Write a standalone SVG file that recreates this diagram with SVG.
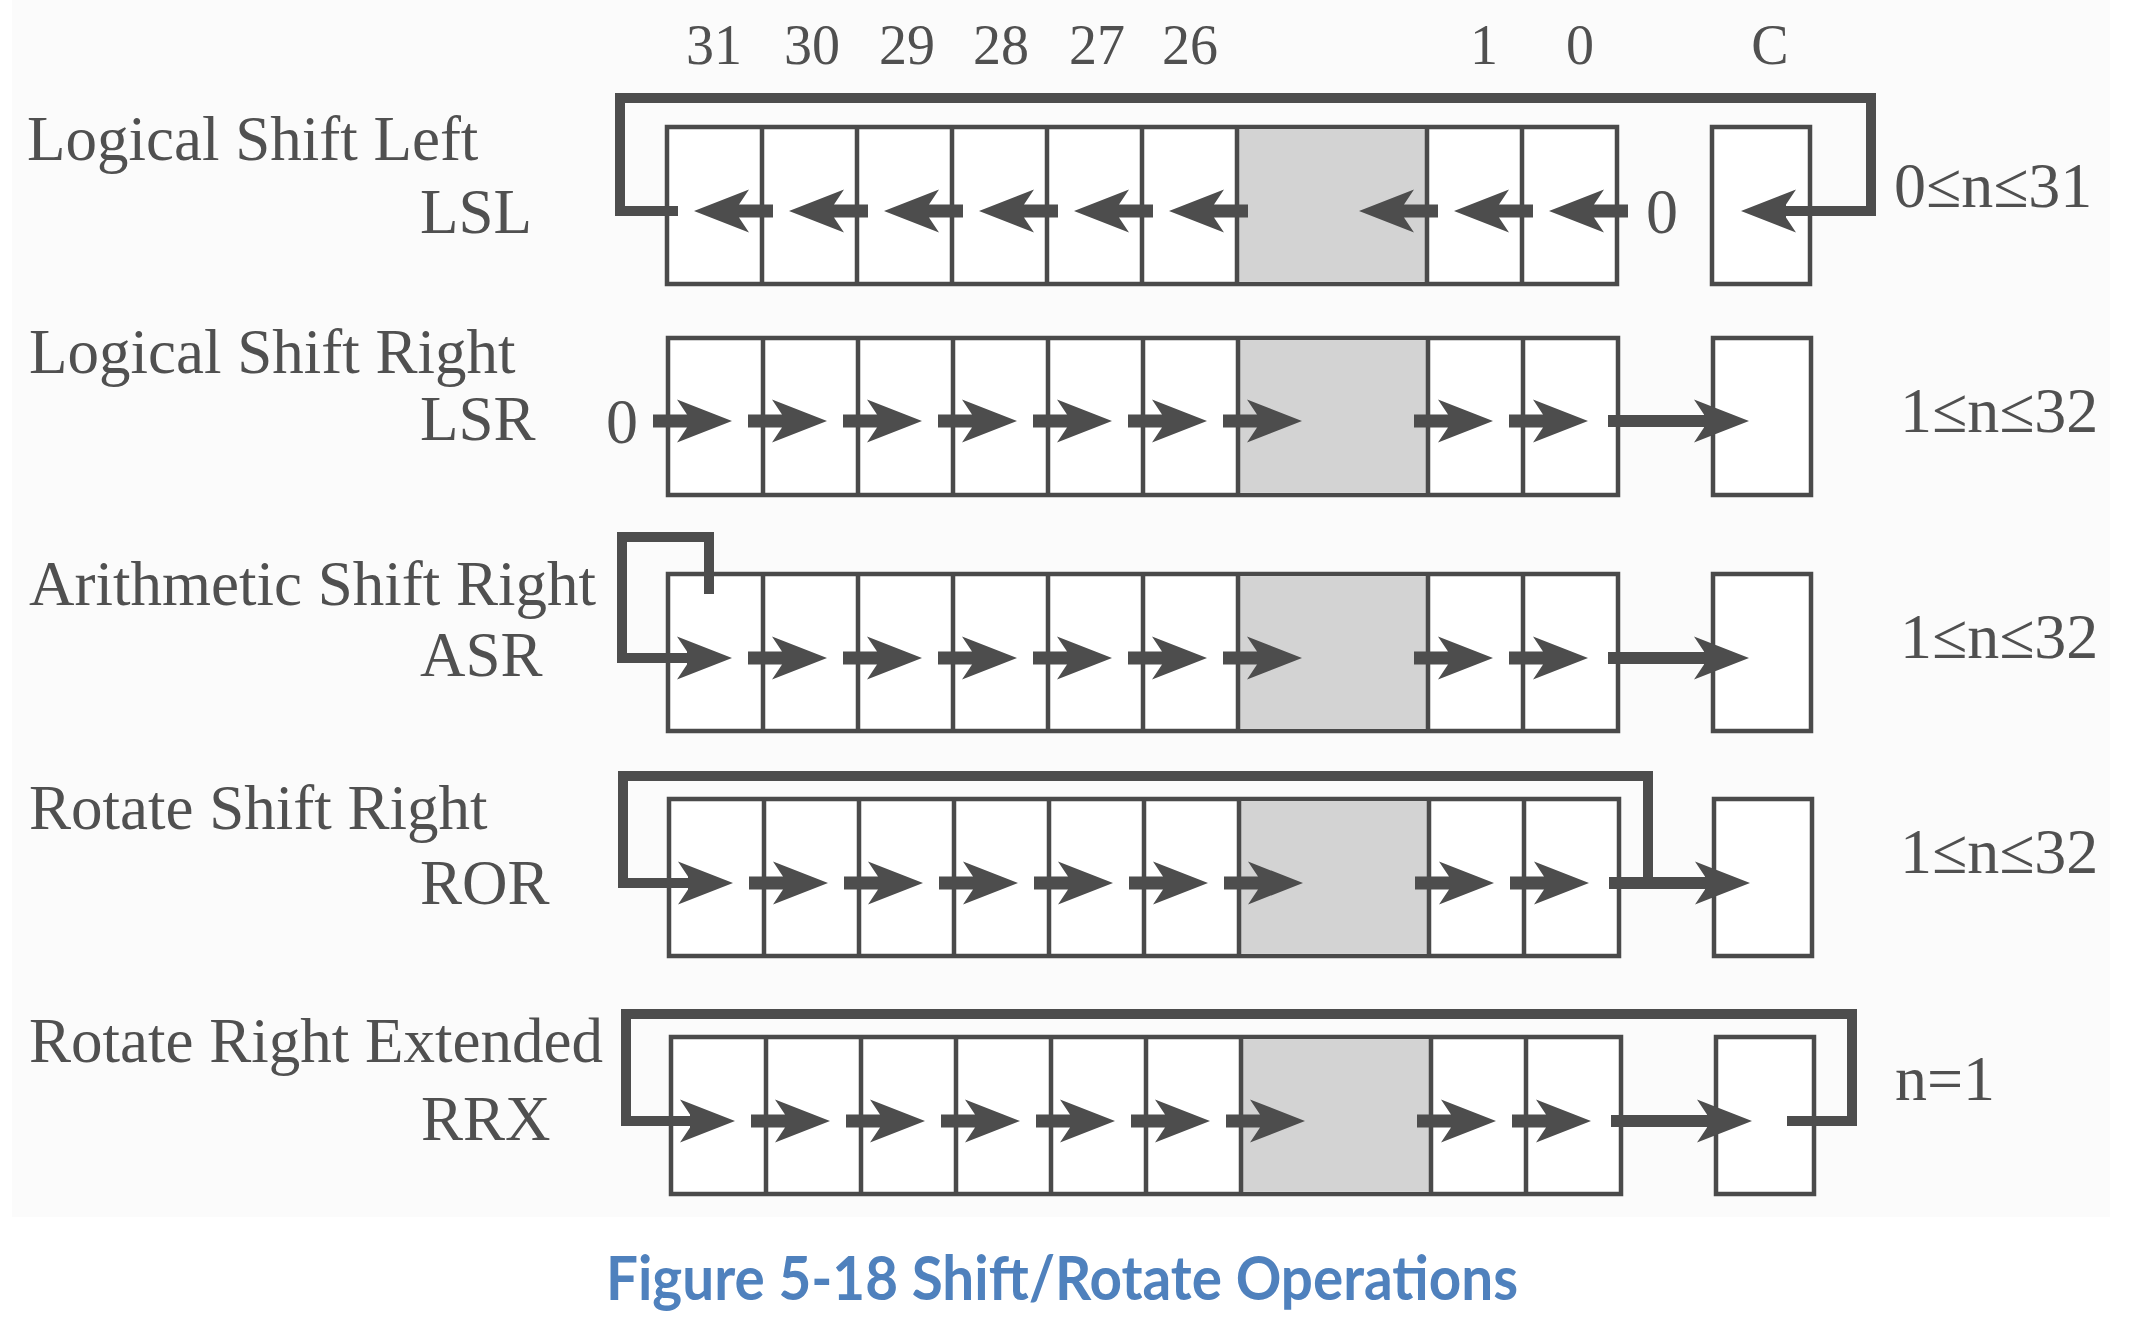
<svg xmlns="http://www.w3.org/2000/svg" xmlns:xlink="http://www.w3.org/1999/xlink" width="2145" height="1318" viewBox="0 0 2145 1318">
<style>
  .lbl { font-family: "Liberation Serif", "Times New Roman", serif; fill: #505050; font-size: 63px; }
  .num { font-family: "Liberation Serif", "Times New Roman", serif; fill: #505050; font-size: 56px; text-anchor: middle; }
  .cond { font-family: "Liberation Serif", "Times New Roman", serif; fill: #505050; font-size: 64px; }
  .cell { fill: #ffffff; stroke: #4a4a4a; stroke-width: 4.5; }
  .shade { fill: #d3d3d3; }
  .div { stroke: #4a4a4a; stroke-width: 4.5; fill: none; }
  .loop { fill: none; stroke: #4d4d4d; stroke-width: 10; stroke-linejoin: miter; stroke-linecap: butt; }
  .shaft { fill: none; stroke: #4d4d4d; stroke-width: 12; stroke-linecap: butt; }
  .arr { fill: #4d4d4d; }
  .title { font-family: Lato, "Open Sans", "Liberation Sans", sans-serif; font-weight: bold; fill: #4F81BD; font-size: 61px; text-anchor: middle; }
</style>
<defs>
  <path id="aR" d="M0,0 L-55,-21.5 L-45,-6.5 L-79,-6.5 L-79,6.5 L-45,6.5 L-55,21.5 Z"/>
  <path id="aL" d="M0,0 L55,-21.5 L45,-6.5 L79,-6.5 L79,6.5 L45,6.5 L55,21.5 Z"/>
  <path id="hR" d="M0,0 L-55,-21.5 L-45,-6.5 L-45,6.5 L-55,21.5 Z"/>
  <path id="hL" d="M0,0 L55,-21.5 L45,-6.5 L45,6.5 L55,21.5 Z"/>
  <g id="register">
    <rect class="cell" x="0" y="0" width="950" height="157"/>
    <rect class="shade" x="570" y="2" width="190" height="153"/>
    <path class="div" d="M95,0V157M190,0V157M285,0V157M380,0V157M475,0V157M570,0V157M760,0V157M855,0V157"/>
    <rect class="cell" x="1045" y="0" width="98" height="157"/>
  </g>
</defs>
<rect x="12" y="0" width="2098" height="1217" fill="#fbfbfb"/>

<g id="bit-numbers">
  <text class="num" x="714" y="64">31</text>
  <text class="num" x="812" y="64">30</text>
  <text class="num" x="907" y="64">29</text>
  <text class="num" x="1001" y="64">28</text>
  <text class="num" x="1097" y="64">27</text>
  <text class="num" x="1190" y="64">26</text>
  <text class="num" x="1484" y="64">1</text>
  <text class="num" x="1580" y="64">0</text>
  <text class="num" x="1770" y="64">C</text>
</g>

<g id="row-lsl">
  <text class="lbl" x="27" y="160">Logical Shift Left</text>
  <text class="lbl" x="420" y="233">LSL</text>
  <use xlink:href="#register" x="667" y="127"/>
  <text class="cond" x="1646" y="233">0</text>
  <text class="cond" x="1894" y="207">0≤n≤31</text>
</g>

<g id="row-lsr">
  <text class="lbl" x="29" y="373">Logical Shift Right</text>
  <text class="lbl" x="420" y="440">LSR</text>
  <use xlink:href="#register" x="668" y="338"/>
  <text class="cond" x="606" y="443">0</text>
  <text class="cond" x="1900" y="432">1≤n≤32</text>
</g>

<g id="row-asr">
  <text class="lbl" x="29" y="605">Arithmetic Shift Right</text>
  <text class="lbl" x="420" y="676">ASR</text>
  <use xlink:href="#register" x="668" y="574"/>
  <text class="cond" x="1900" y="658">1≤n≤32</text>
</g>

<g id="row-ror">
  <text class="lbl" x="29" y="829">Rotate Shift Right</text>
  <text class="lbl" x="420" y="904">ROR</text>
  <use xlink:href="#register" x="669" y="799"/>
  <text class="cond" x="1900" y="873">1≤n≤32</text>
</g>

<g id="row-rrx">
  <text class="lbl" x="29" y="1062">Rotate Right Extended</text>
  <text class="lbl" x="421" y="1140">RRX</text>
  <use xlink:href="#register" x="671" y="1037"/>
  <text class="cond" x="1895" y="1100">n=1</text>
</g>

<g id="connectors">
  <!-- LSL -->
  <path class="loop" d="M678,211 H620 V98 H1871 V211 H1784"/>
  <use class="arr" xlink:href="#hL" x="1741" y="211"/>
  <g class="arr">
    <use xlink:href="#aL" x="694" y="211"/>
    <use xlink:href="#aL" x="789" y="211"/>
    <use xlink:href="#aL" x="884" y="211"/>
    <use xlink:href="#aL" x="979" y="211"/>
    <use xlink:href="#aL" x="1074" y="211"/>
    <use xlink:href="#aL" x="1169" y="211"/>
    <use xlink:href="#aL" x="1359" y="211"/>
    <use xlink:href="#aL" x="1454" y="211"/>
    <use xlink:href="#aL" x="1549" y="211"/>
  </g>
  <!-- LSR -->
  <g class="arr">
    <use xlink:href="#aR" x="732" y="421"/>
    <use xlink:href="#aR" x="827" y="421"/>
    <use xlink:href="#aR" x="922" y="421"/>
    <use xlink:href="#aR" x="1017" y="421"/>
    <use xlink:href="#aR" x="1112" y="421"/>
    <use xlink:href="#aR" x="1207" y="421"/>
    <use xlink:href="#aR" x="1302" y="421"/>
    <use xlink:href="#aR" x="1493" y="421"/>
    <use xlink:href="#aR" x="1588" y="421"/>
    <use xlink:href="#hR" x="1749" y="421"/>
  </g>
  <path class="shaft" d="M1608,421 H1706"/>
  <!-- ASR -->
  <path class="loop" d="M709,594 V537 H622 V658 H689"/>
  <g class="arr">
    <use xlink:href="#hR" x="732" y="658"/>
    <use xlink:href="#aR" x="827" y="658"/>
    <use xlink:href="#aR" x="922" y="658"/>
    <use xlink:href="#aR" x="1017" y="658"/>
    <use xlink:href="#aR" x="1112" y="658"/>
    <use xlink:href="#aR" x="1207" y="658"/>
    <use xlink:href="#aR" x="1302" y="658"/>
    <use xlink:href="#aR" x="1493" y="658"/>
    <use xlink:href="#aR" x="1588" y="658"/>
    <use xlink:href="#hR" x="1749" y="658"/>
  </g>
  <path class="shaft" d="M1608,658 H1706"/>
  <!-- ROR -->
  <path class="loop" d="M1648,883 V776 H623 V883 H690"/>
  <path class="shaft" d="M1609,883 H1707"/>
  <g class="arr">
    <use xlink:href="#hR" x="733" y="883"/>
    <use xlink:href="#aR" x="828" y="883"/>
    <use xlink:href="#aR" x="923" y="883"/>
    <use xlink:href="#aR" x="1018" y="883"/>
    <use xlink:href="#aR" x="1113" y="883"/>
    <use xlink:href="#aR" x="1208" y="883"/>
    <use xlink:href="#aR" x="1303" y="883"/>
    <use xlink:href="#aR" x="1494" y="883"/>
    <use xlink:href="#aR" x="1589" y="883"/>
    <use xlink:href="#hR" x="1750" y="883"/>
  </g>
  <!-- RRX -->
  <path class="loop" d="M1787,1121 H1852 V1014 H626 V1121 H692"/>
  <path class="shaft" d="M1611,1121 H1709"/>
  <g class="arr">
    <use xlink:href="#hR" x="735" y="1121"/>
    <use xlink:href="#aR" x="830" y="1121"/>
    <use xlink:href="#aR" x="925" y="1121"/>
    <use xlink:href="#aR" x="1020" y="1121"/>
    <use xlink:href="#aR" x="1115" y="1121"/>
    <use xlink:href="#aR" x="1210" y="1121"/>
    <use xlink:href="#aR" x="1305" y="1121"/>
    <use xlink:href="#aR" x="1496" y="1121"/>
    <use xlink:href="#aR" x="1591" y="1121"/>
    <use xlink:href="#hR" x="1752" y="1121"/>
  </g>
</g>

<text class="title" x="1062" y="1300" textLength="912" lengthAdjust="spacingAndGlyphs">Figure 5-18 Shift/Rotate Operations</text>
</svg>
